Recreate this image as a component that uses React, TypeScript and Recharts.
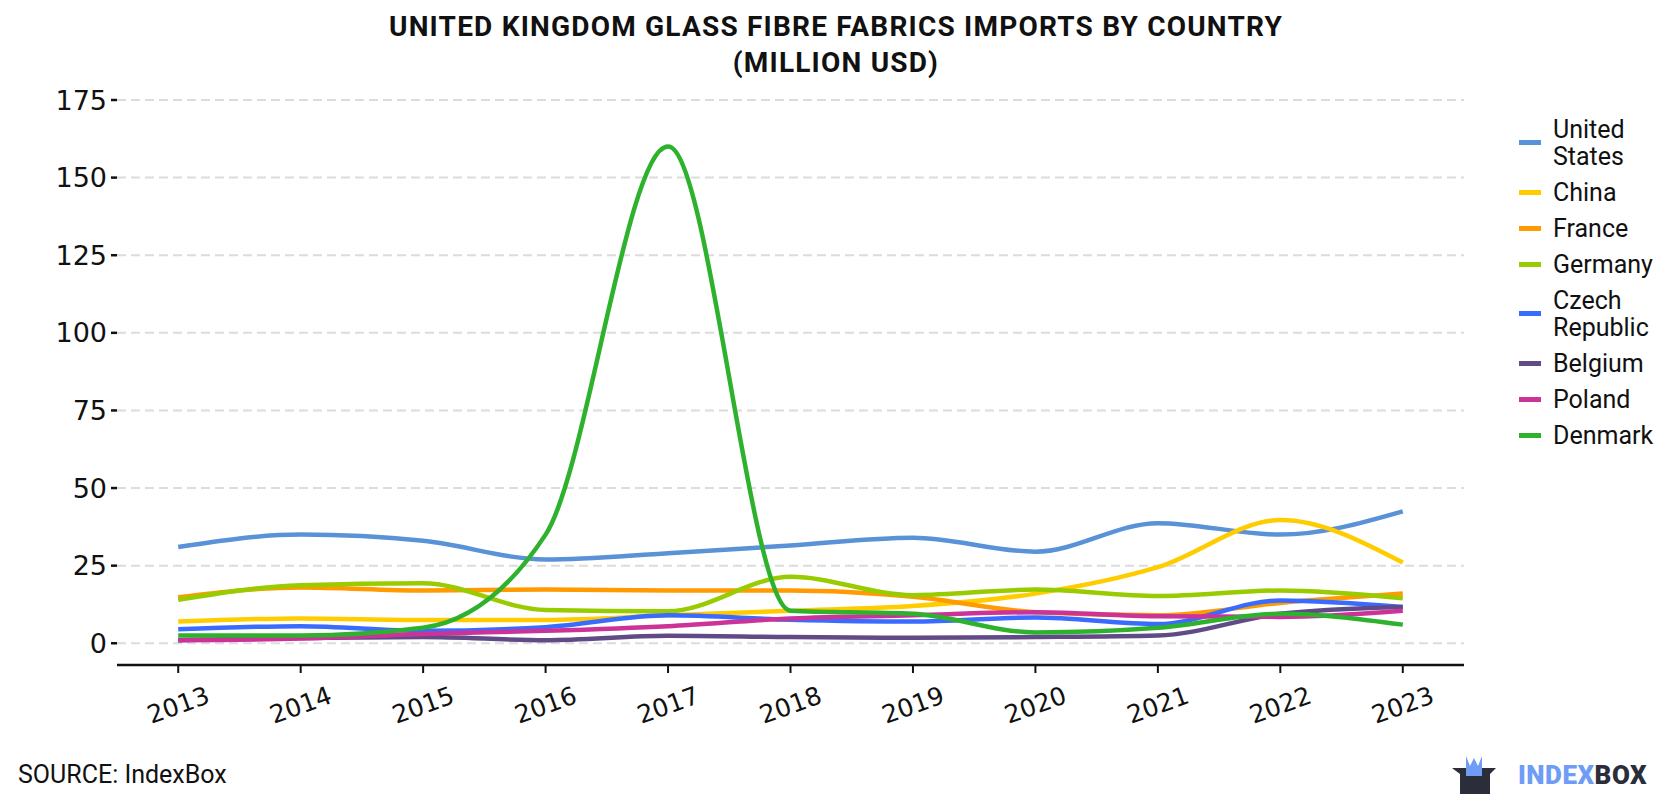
import React from "react";
import { LineChart, Line, XAxis, YAxis, CartesianGrid } from "recharts";

const years = [2013, 2014, 2015, 2016, 2017, 2018, 2019, 2020, 2021, 2022, 2023];

const unitedStates = [31, 35, 33, 27, 29, 31.5, 34, 29.5, 38.7, 35, 42.5];
const china = [7, 8, 7.5, 7.5, 9, 10.5, 12, 16, 24.5, 39.7, 26];
const france = [14.8, 18, 17, 17.3, 17, 17, 15, 10, 9, 13, 16];
const germany = [14, 18.7, 19.3, 10.7, 10.3, 21.4, 15.5, 17.3, 15.2, 17, 14.5];
const czechRepublic = [4.5, 5.5, 4, 5.2, 9, 7.6, 7, 8.3, 6.2, 13.8, 11.7];
const belgium = [1, 1.7, 2, 1, 2.4, 2, 1.8, 2, 2.5, 9.5, 11.7];
const poland = [1, 1.5, 3, 4, 5.5, 8, 9, 10, 8.7, 8.5, 10.5];
const denmark = [2.5, 2.5, 5, 35, 160, 10.5, 9.5, 3.5, 5, 9.5, 6];

const yTicks = [0, 25, 50, 75, 100, 125, 150, 175];

const series = [
  { key: "us", name: "United States", color: "#5a92d8", values: unitedStates },
  { key: "cn", name: "China", color: "#ffcc00", values: china },
  { key: "fr", name: "France", color: "#ff9a00", values: france },
  { key: "de", name: "Germany", color: "#99cc00", values: germany },
  { key: "cz", name: "Czech Republic", color: "#3a6bff", values: czechRepublic },
  { key: "be", name: "Belgium", color: "#614b87", values: belgium },
  { key: "pl", name: "Poland", color: "#cc3399", values: poland },
  { key: "dk", name: "Denmark", color: "#2eb22e", values: denmark },
];

const data = years.map((year, i) => {
  const row: Record<string, number> = { year };
  series.forEach((s) => {
    row[s.key] = s.values[i];
  });
  return row;
});

const FONT = "Roboto, 'Noto Sans', sans-serif";
const TICK_FONT = "'DejaVu Sans', sans-serif";

function XTick({ x, y, payload }: { x?: number; y?: number; payload?: { value: number } }) {
  return (
    <g transform={`translate(${x},${(y ?? 0) + 30})`}>
      <text
        transform="rotate(-20)"
        textAnchor="middle"
        dy="0.35em"
        fill="#111"
        fontSize={25}
        fontFamily={TICK_FONT}
      >
        {payload?.value}
      </text>
    </g>
  );
}

function ChartLegend() {
  return (
    <div
      style={{
        position: "absolute",
        left: 1519,
        top: 111,
        fontFamily: FONT,
        fontSize: 25,
        color: "#111",
      }}
    >
      {series.map((s) => (
        <div
          key={s.key}
          style={{ display: "flex", alignItems: "center", padding: "4.5px 0", lineHeight: "27px" }}
        >
          <div style={{ width: 22, height: 5, background: s.color, marginRight: 12 }} />
          <div style={{ width: 125 }}>{s.name}</div>
        </div>
      ))}
    </div>
  );
}

function Logo() {
  return (
    <div style={{ position: "absolute", left: 1450, top: 754, display: "flex", alignItems: "center" }}>
      <svg width={48} height={42} viewBox="0 0 48 42">
        <path d="M2 14 L46 14 L40 20 L40 40 L10 40 L10 20 Z" fill="#2b2d3a" />
        <path d="M16 2 L20 12 L24 4 L28 12 L32 2 L32 22 L16 22 Z" fill="#6e9cf6" />
      </svg>
      <span style={{ fontFamily: FONT, fontWeight: 900, fontSize: 26, marginLeft: 20, letterSpacing: 0.5 }}>
        <span style={{ color: "#6e9cf6" }}>INDEX</span>
        <span style={{ color: "#2b2d3a" }}>BOX</span>
      </span>
    </div>
  );
}

export default function App() {
  return (
    <div style={{ position: "absolute", left: 0, top: 0, width: 1680, height: 800, background: "#fff" }}>
      <div
        style={{
          position: "absolute",
          top: 9,
          left: 0,
          width: 1672,
          textAlign: "center",
          fontFamily: FONT,
          fontWeight: 700,
          fontSize: 28,
          letterSpacing: 1.2,
          lineHeight: "36px",
          color: "#111",
        }}
      >
        UNITED KINGDOM GLASS FIBRE FABRICS IMPORTS BY COUNTRY
        <br />
        (MILLION USD)
      </div>
      <LineChart
        width={1680}
        height={800}
        data={data}
        margin={{ top: 100, right: 216, bottom: 75, left: 0 }}
      >
        <CartesianGrid vertical={false} stroke="#dcdcdc" strokeWidth={2} strokeDasharray="9 5" />
        <XAxis
          dataKey="year"
          type="number"
          domain={[2012.5, 2023.5]}
          ticks={years}
          height={60}
          axisLine={{ stroke: "#111", strokeWidth: 2.5 }}
          tickLine={{ stroke: "#111", strokeWidth: 2 }}
          tickSize={8}
          tick={<XTick />}
          interval={0}
        />
        <YAxis
          width={117}
          domain={[-7, 175]}
          ticks={yTicks}
          axisLine={false}
          tickLine={{ stroke: "#111", strokeWidth: 2.5 }}
          tickSize={6}
          tickMargin={4}
          tick={{ fill: "#111", fontSize: 27, fontFamily: TICK_FONT }}
          allowDataOverflow
        />
        {series.map((s) => (
          <Line
            key={s.key}
            dataKey={s.key}
            name={s.name}
            type="monotone"
            stroke={s.color}
            strokeWidth={4.5}
            dot={false}
            activeDot={false}
            isAnimationActive={false}
          />
        ))}
      </LineChart>
      <ChartLegend />
      <div
        style={{
          position: "absolute",
          left: 18,
          top: 760,
          fontFamily: FONT,
          fontSize: 25,
          color: "#111",
        }}
      >
        SOURCE: IndexBox
      </div>
      <Logo />
    </div>
  );
}
